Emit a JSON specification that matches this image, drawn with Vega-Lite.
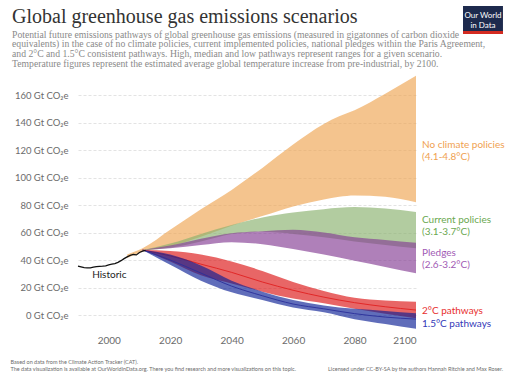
{
  "$schema": "https://vega.github.io/schema/vega-lite/v6.json",
  "width": 338,
  "height": 258.5,
  "autosize": "none",
  "padding": {"left": 78, "top": 73, "right": 96, "bottom": 48.5},
  "background": "white",
  "config": {
    "view": {"stroke": null},
    "axisY": {"domain": false, "ticks": false, "grid": true, "gridColor": "#e3e3e3", "gridDash": [3, 2], "labelFont": "Lato", "labelFontSize": 9.5, "labelColor": "#6b6b6b", "labelPadding": 10, "labelOverlap": false, "tickCount": 9},
    "axisX": {"domain": false, "ticks": false, "grid": false, "labelFont": "Lato", "labelFontSize": 10, "labelColor": "#6b6b6b", "labelPadding": 4}
  },
  "title": {
    "text": "Global greenhouse gas emissions scenarios",
    "subtitle": [
      "Potential future emissions pathways of global greenhouse gas emissions (measured in gigatonnes of carbon dioxide",
      "equivalents) in the case of no climate policies, current implemented policies, national pledges within the Paris Agreement,",
      "and 2°C and 1.5°C consistent pathways. High, median and low pathways represent ranges for a given scenario.",
      "Temperature figures represent the estimated average global temperature increase from pre-industrial, by 2100."
    ],
    "anchor": "start",
    "frame": "group",
    "dx": -66,
    "dy": 68.5,
    "offset": 6,
    "font": "Liberation Serif",
    "fontSize": 20,
    "fontWeight": "normal",
    "color": "#333333",
    "subtitleFont": "Liberation Serif",
    "subtitleFontSize": 9.7,
    "subtitleColor": "#8a8a8a",
    "subtitleLineHeight": 9.7,
    "subtitlePadding": 3
  },
  "datasets": {
    "bands": [
      {"s": "none", "year": 2006, "low": 41.5, "high": 44, "mid": null},
      {"s": "none", "year": 2011, "low": 46, "high": 48.5, "mid": null},
      {"s": "none", "year": 2020, "low": 50, "high": 62, "mid": null},
      {"s": "none", "year": 2030, "low": 57, "high": 77, "mid": null},
      {"s": "none", "year": 2040, "low": 65, "high": 91, "mid": null},
      {"s": "none", "year": 2050, "low": 72, "high": 107, "mid": null},
      {"s": "none", "year": 2060, "low": 79, "high": 124, "mid": null},
      {"s": "none", "year": 2070, "low": 84, "high": 139, "mid": null},
      {"s": "none", "year": 2075, "low": 86, "high": 144.5, "mid": null},
      {"s": "none", "year": 2080, "low": 87, "high": 149, "mid": null},
      {"s": "none", "year": 2090, "low": 86, "high": 161, "mid": null},
      {"s": "none", "year": 2100, "low": 82, "high": 174, "mid": null},
      {"s": "current", "year": 2011, "low": 47.3, "high": 47.3, "mid": null},
      {"s": "current", "year": 2020, "low": 49, "high": 52, "mid": null},
      {"s": "current", "year": 2030, "low": 53.5, "high": 59, "mid": null},
      {"s": "current", "year": 2040, "low": 59, "high": 65.5, "mid": null},
      {"s": "current", "year": 2050, "low": 60.5, "high": 71, "mid": null},
      {"s": "current", "year": 2060, "low": 59, "high": 74.5, "mid": null},
      {"s": "current", "year": 2070, "low": 56.5, "high": 77, "mid": null},
      {"s": "current", "year": 2080, "low": 53.5, "high": 78.5, "mid": null},
      {"s": "current", "year": 2090, "low": 51, "high": 77.5, "mid": null},
      {"s": "current", "year": 2100, "low": 48.5, "high": 75, "mid": null},
      {"s": "pledges", "year": 2011, "low": 47.3, "high": 47.3, "mid": null},
      {"s": "pledges", "year": 2020, "low": 48.5, "high": 50.5, "mid": null},
      {"s": "pledges", "year": 2030, "low": 51, "high": 55.5, "mid": null},
      {"s": "pledges", "year": 2040, "low": 53, "high": 59.5, "mid": null},
      {"s": "pledges", "year": 2050, "low": 51.5, "high": 61, "mid": null},
      {"s": "pledges", "year": 2060, "low": 48, "high": 62, "mid": null},
      {"s": "pledges", "year": 2070, "low": 44, "high": 60, "mid": null},
      {"s": "pledges", "year": 2080, "low": 39.5, "high": 56.5, "mid": null},
      {"s": "pledges", "year": 2090, "low": 35, "high": 54.5, "mid": null},
      {"s": "pledges", "year": 2100, "low": 30.3, "high": 52.5, "mid": null},
      {"s": "two", "year": 2011, "low": 47.3, "high": 47.3, "mid": 47.3},
      {"s": "two", "year": 2020, "low": 39, "high": 46.5, "mid": 43},
      {"s": "two", "year": 2030, "low": 29, "high": 44, "mid": 37},
      {"s": "two", "year": 2040, "low": 23, "high": 39, "mid": 31},
      {"s": "two", "year": 2050, "low": 17, "high": 32, "mid": 24},
      {"s": "two", "year": 2060, "low": 12, "high": 24, "mid": 18},
      {"s": "two", "year": 2070, "low": 8.5, "high": 17.5, "mid": 13},
      {"s": "two", "year": 2080, "low": 4.5, "high": 12.5, "mid": 9},
      {"s": "two", "year": 2090, "low": 1, "high": 10.5, "mid": 6},
      {"s": "two", "year": 2100, "low": -2.4, "high": 9.7, "mid": 3.6},
      {"s": "onefive", "year": 2011, "low": 47.3, "high": 47.3, "mid": 47.3},
      {"s": "onefive", "year": 2020, "low": 36.5, "high": 44, "mid": 40},
      {"s": "onefive", "year": 2030, "low": 25, "high": 36, "mid": 30.5},
      {"s": "onefive", "year": 2040, "low": 16.5, "high": 25, "mid": 21},
      {"s": "onefive", "year": 2050, "low": 11, "high": 17, "mid": 14},
      {"s": "onefive", "year": 2060, "low": 5.5, "high": 11, "mid": 8},
      {"s": "onefive", "year": 2070, "low": 2, "high": 7, "mid": 4.5},
      {"s": "onefive", "year": 2080, "low": -3, "high": 4.5, "mid": 1},
      {"s": "onefive", "year": 2090, "low": -6.5, "high": 3, "mid": -1.5},
      {"s": "onefive", "year": 2100, "low": -10, "high": 1.2, "mid": -3}
    ],
    "hist": [
      {"year": 1990, "v": 35.5}, {"year": 1991, "v": 35}, {"year": 1992, "v": 34.5},
      {"year": 1993, "v": 34.3}, {"year": 1994, "v": 34.3}, {"year": 1995, "v": 34.8},
      {"year": 1996, "v": 35.2}, {"year": 1997, "v": 35.4}, {"year": 1998, "v": 35.5},
      {"year": 1999, "v": 35.8}, {"year": 2000, "v": 36.5}, {"year": 2001, "v": 37},
      {"year": 2002, "v": 37.4}, {"year": 2003, "v": 38.3}, {"year": 2004, "v": 39.5},
      {"year": 2005, "v": 41}, {"year": 2006, "v": 42.3}, {"year": 2007, "v": 43.3},
      {"year": 2008, "v": 44}, {"year": 2009, "v": 43.7}, {"year": 2010, "v": 45.5},
      {"year": 2011, "v": 46.5}, {"year": 2012, "v": 47}
    ],
    "labels": [
      {"s": "none", "text": "No climate policies", "year": 2100, "v": 123.6},
      {"s": "none", "text": "(4.1-4.8°C)", "year": 2100, "v": 114.9},
      {"s": "current", "text": "Current policies", "year": 2100, "v": 69.1},
      {"s": "current", "text": "(3.1-3.7°C)", "year": 2100, "v": 60.4},
      {"s": "pledges", "text": "Pledges", "year": 2100, "v": 45.1},
      {"s": "pledges", "text": "(2.6-3.2°C)", "year": 2100, "v": 36.4},
      {"s": "two", "text": "2°C pathways", "year": 2100, "v": 2.9},
      {"s": "onefive", "text": "1.5°C pathways", "year": 2100, "v": -6.5}
    ]
  },
  "layer": [
    {
      "data": {"name": "bands"},
      "transform": [{"filter": "datum.s === 'none'"}],
      "mark": {"type": "area", "interpolate": "monotone", "color": "#eea451", "fillOpacity": 0.65, "clip": false},
      "encoding": {
        "x": {"field": "year", "type": "quantitative", "scale": {"domain": [1990, 2100], "nice": false, "zero": false},
          "axis": {
            "values": [2000, 2020, 2040, 2060, 2080, 2100], "format": "d",
            "title": ["Based on data from the Climate Action Tracker (CAT).", "The data visualization is available at OurWorldinData.org. There you find research and more visualizations on this topic."],
            "titleFont": "Lato", "titleFontSize": 5.5, "titleFontWeight": "normal", "titleColor": "#6b6b6b",
            "titleAnchor": "start", "titleAlign": "left", "titleBaseline": "top", "titleX": -68, "titleY": 28, "titleLineHeight": 7
          }},
        "y": {"field": "low", "type": "quantitative", "scale": {"domain": [-12, 176], "nice": false, "zero": false},
          "axis": {"values": [0, 20, 40, 60, 80, 100, 120, 140, 160], "labelExpr": "datum.value + ' Gt CO₂e'", "labelOverlap": false, "title": null}},
        "y2": {"field": "high"}
      }
    },
    {
      "data": {"name": "bands"},
      "transform": [{"filter": "datum.s === 'current'"}],
      "mark": {"type": "area", "interpolate": "monotone", "color": "#88b16d", "fillOpacity": 0.65},
      "encoding": {"x": {"field": "year", "type": "quantitative"}, "y": {"field": "low", "type": "quantitative", "axis": {"values": [0, 20, 40, 60, 80, 100, 120, 140, 160], "labelExpr": "datum.value + ' Gt CO₂e'", "labelOverlap": false, "title": null}}, "y2": {"field": "high"}}
    },
    {
      "data": {"name": "bands"},
      "transform": [{"filter": "datum.s === 'pledges'"}],
      "mark": {"type": "area", "interpolate": "monotone", "color": "#843c93", "fillOpacity": 0.65},
      "encoding": {"x": {"field": "year", "type": "quantitative"}, "y": {"field": "low", "type": "quantitative", "axis": {"values": [0, 20, 40, 60, 80, 100, 120, 140, 160], "labelExpr": "datum.value + ' Gt CO₂e'", "labelOverlap": false, "title": null}}, "y2": {"field": "high"}}
    },
    {
      "data": {"name": "bands"},
      "transform": [{"filter": "datum.s === 'two'"}],
      "mark": {"type": "area", "interpolate": "monotone", "color": "#dc1414", "fillOpacity": 0.65},
      "encoding": {"x": {"field": "year", "type": "quantitative"}, "y": {"field": "low", "type": "quantitative", "axis": {"values": [0, 20, 40, 60, 80, 100, 120, 140, 160], "labelExpr": "datum.value + ' Gt CO₂e'", "labelOverlap": false, "title": null}}, "y2": {"field": "high"}}
    },
    {
      "data": {"name": "bands"},
      "transform": [{"filter": "datum.s === 'two'"}],
      "mark": {"type": "line", "interpolate": "monotone", "color": "#e02020", "strokeWidth": 0.9},
      "encoding": {"x": {"field": "year", "type": "quantitative"}, "y": {"field": "mid", "type": "quantitative", "axis": {"values": [0, 20, 40, 60, 80, 100, 120, 140, 160], "labelExpr": "datum.value + ' Gt CO₂e'", "labelOverlap": false, "title": null}}}
    },
    {
      "data": {"name": "bands"},
      "transform": [{"filter": "datum.s === 'onefive'"}],
      "mark": {"type": "area", "interpolate": "monotone", "color": "#0a1f95", "fillOpacity": 0.65},
      "encoding": {"x": {"field": "year", "type": "quantitative"}, "y": {"field": "low", "type": "quantitative", "axis": {"values": [0, 20, 40, 60, 80, 100, 120, 140, 160], "labelExpr": "datum.value + ' Gt CO₂e'", "labelOverlap": false, "title": null}}, "y2": {"field": "high"}}
    },
    {
      "data": {"name": "bands"},
      "transform": [{"filter": "datum.s === 'onefive'"}],
      "mark": {"type": "line", "interpolate": "monotone", "color": "#2a2f9a", "strokeWidth": 0.9},
      "encoding": {"x": {"field": "year", "type": "quantitative"}, "y": {"field": "mid", "type": "quantitative", "axis": {"values": [0, 20, 40, 60, 80, 100, 120, 140, 160], "labelExpr": "datum.value + ' Gt CO₂e'", "labelOverlap": false, "title": null}}}
    },
    {
      "data": {"name": "hist"},
      "mark": {"type": "line", "color": "#111111", "strokeWidth": 1.3},
      "encoding": {"x": {"field": "year", "type": "quantitative"}, "y": {"field": "v", "type": "quantitative", "axis": {"values": [0, 20, 40, 60, 80, 100, 120, 140, 160], "labelExpr": "datum.value + ' Gt CO₂e'", "labelOverlap": false, "title": null}}}
    },
    {
      "data": {"name": "labels"},
      "mark": {"type": "text", "align": "left", "baseline": "middle", "dx": 6, "font": "Lato", "fontSize": 10},
      "encoding": {
        "x": {"field": "year", "type": "quantitative"},
        "y": {"field": "v", "type": "quantitative", "axis": {"values": [0, 20, 40, 60, 80, 100, 120, 140, 160], "labelExpr": "datum.value + ' Gt CO₂e'", "labelOverlap": false, "title": null}},
        "text": {"field": "text"},
        "color": {"field": "s", "type": "nominal", "legend": null,
          "scale": {"domain": ["none", "current", "pledges", "two", "onefive"], "range": ["#f0a150", "#6aa84f", "#a15ab4", "#e8302f", "#3438b8"]}}
      }
    },
    {
      "data": {"values": [{"text": "Historic", "year": 1994.6, "v": 29.1}]},
      "mark": {"type": "text", "align": "left", "baseline": "middle", "font": "Lato", "fontSize": 10, "color": "#222222"},
      "encoding": {"x": {"field": "year", "type": "quantitative"}, "y": {"field": "v", "type": "quantitative", "axis": {"values": [0, 20, 40, 60, 80, 100, 120, 140, 160], "labelExpr": "datum.value + ' Gt CO₂e'", "labelOverlap": false, "title": null}}, "text": {"field": "text"}}
    },
    {
      "data": {"values": [{"text": "Licensed under CC-BY-SA by the authors Hannah Ritchie and Max Roser."}]},
      "mark": {"type": "text", "align": "right", "baseline": "middle", "font": "Lato", "fontSize": 5.5, "color": "#6b6b6b", "dx": 87},
      "encoding": {"x": {"datum": 2100}, "y": {"datum": -39.3}, "text": {"field": "text"}}
    },
    {
      "data": {"values": [{"part": "box"}]},
      "mark": {"type": "rect", "color": "#1d2a4d", "clip": false},
      "encoding": {"x": {"datum": 2115.3}, "x2": {"datum": 2128.3}, "y": {"datum": 224.7}, "y2": {"datum": 204.4}}
    },
    {
      "data": {"values": [{"part": "bar"}]},
      "mark": {"type": "rect", "color": "#d42b21", "clip": false},
      "encoding": {"x": {"datum": 2115.3}, "x2": {"datum": 2128.3}, "y": {"datum": 206.6}, "y2": {"datum": 204.4}}
    },
    {
      "data": {"values": [{"text": "Our World", "v": 217.2}, {"text": "in Data", "v": 210.2}]},
      "mark": {"type": "text", "align": "center", "baseline": "middle", "font": "Lato", "fontSize": 8, "color": "white", "clip": false},
      "encoding": {"x": {"datum": 2121.8}, "y": {"field": "v", "type": "quantitative"}, "text": {"field": "text"}}
    }
  ]
}
